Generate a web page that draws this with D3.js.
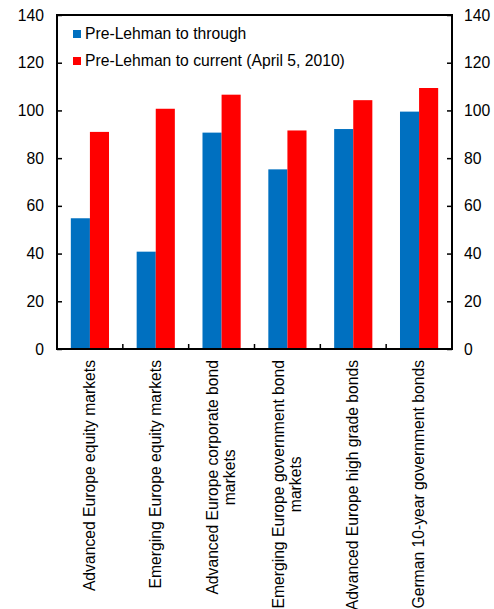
<!DOCTYPE html>
<html>
<head>
<meta charset="utf-8">
<script src="https://cdn.jsdelivr.net/npm/d3@7"></script>
<style>
  body { margin: 0; background: #fff; }
  svg text { font-family: Arial, "Liberation Sans", sans-serif; fill: #000; }
</style>
</head>
<body>
<svg id="chart" width="494" height="609"></svg>
<script>
// 类别（多行标签用数组）
var categories = [
    ["Advanced Europe equity markets"],
    ["Emerging Europe equity markets"],
    ["Advanced Europe corporate bond", "markets"],
    ["Emerging Europe government bond", "markets"],
    ["Advanced Europe high grade bonds"],
    ["German 10-year government bonds"]
];
var seriesNames = ["Pre-Lehman to through", "Pre-Lehman to current (April 5, 2010)"];
var throughValues = [54.8, 40.8, 90.7, 75.3, 92.2, 99.5];
var currentValues = [91.0, 100.7, 106.6, 91.6, 104.3, 109.4];
var yTicks = [0, 20, 40, 60, 80, 100, 120, 140];

var colType = i => i === 0 ? "#0070C0" : "#FF0000";

var width = 494, height = 609;
var margin = {top: 15, right: 42, bottom: 260, left: 57};
var fontSize = "15.7px";

var svg = d3.select("#chart");

var xScale = d3.scaleBand()
    .domain(d3.range(categories.length))
    .range([margin.left, width - margin.right])
    .paddingInner(0.42)
    .paddingOuter(0.21);

var xInner = d3.scaleBand()
    .domain([0, 1])
    .range([0, xScale.bandwidth()]);

var yScale = d3.scaleLinear()
    .domain([0, 140])
    .range([height - margin.bottom, margin.top]);

//柱子
var rows = categories.map((c, i) => ({i: i, vals: [throughValues[i], currentValues[i]]}));

svg.append("g")
    .selectAll("g")
    .data(rows)
    .join("g")
    .attr("transform", d => "translate(" + xScale(d.i) + ",0)")
    .selectAll("rect")
    .data(d => d.vals.map((v, s) => ({s: s, v: v})))
    .join("rect")
    .attr("x", d => xInner(d.s))
    .attr("width", xInner.bandwidth())
    .attr("y", d => yScale(d.v))
    .attr("height", d => yScale(0) - yScale(d.v))
    .attr("fill", d => colType(d.s));

//左右坐标轴
var leftAxis = d3.axisLeft(yScale).tickValues(yTicks).tickSize(-5).tickPadding(13);
var rightAxis = d3.axisRight(yScale).tickValues(yTicks).tickSize(-5).tickPadding(12);

function styleAxis(g) {
    g.select(".domain").remove();
    g.selectAll("line").attr("stroke", "#000").attr("stroke-width", 1.5);
    g.selectAll("text").style("font-size", fontSize).attr("fill", "#000");
}

svg.append("g")
    .attr("transform", "translate(" + margin.left + ",0)")
    .call(leftAxis)
    .call(styleAxis);

svg.append("g")
    .attr("transform", "translate(" + (width - margin.right) + ",0)")
    .call(rightAxis)
    .call(styleAxis);

//外框
svg.append("rect")
    .attr("x", margin.left)
    .attr("y", margin.top)
    .attr("width", width - margin.left - margin.right)
    .attr("height", height - margin.top - margin.bottom)
    .attr("fill", "none")
    .attr("stroke", "#000")
    .attr("stroke-width", 2);

//x轴分组刻度
var step = xScale.step();
svg.append("g")
    .selectAll("line")
    .data(d3.range(1, categories.length))
    .join("line")
    .attr("x1", i => xScale(i) - step * xScale.paddingInner() / 2)
    .attr("x2", i => xScale(i) - step * xScale.paddingInner() / 2)
    .attr("y1", yScale(0))
    .attr("y2", yScale(0) - 5)
    .attr("stroke", "#000")
    .attr("stroke-width", 1.5);

//x轴标签（旋转）
var labelTop = yScale(0) + 11;
var lineGap = 17;
var labels = svg.append("g")
    .selectAll("text")
    .data(categories.map((c, i) => ({i: i, lines: c})))
    .join("text")
    .attr("transform", d => {
        var cx = xScale(d.i) + xScale.bandwidth() / 2;
        return "translate(" + cx + "," + labelTop + ") rotate(-90)";
    })
    .attr("text-anchor", "end")
    .style("font-size", fontSize);

labels.each(function (d) {
    var t = d3.select(this);
    var n = d.lines.length;
    // 先放第一行，测宽后让后续行居中
    var first = t.append("tspan")
        .attr("x", 0)
        .attr("y", (0 - (n - 1) / 2) * lineGap + 5)
        .text(d.lines[0]);
    var w = first.node().getComputedTextLength();
    for (var k = 1; k < n; k++) {
        t.append("tspan")
            .attr("x", -(w / 2))
            .attr("text-anchor", "middle")
            .attr("y", (k - (n - 1) / 2) * lineGap + 5)
            .text(d.lines[k]);
    }
});

//图例
var legend = svg.append("g")
    .selectAll("g")
    .data(seriesNames)
    .join("g")
    .attr("transform", (d, i) => "translate(73," + (30 + i * 27) + ")");

legend.append("rect")
    .attr("width", 8)
    .attr("height", 8)
    .attr("fill", (d, i) => colType(i));

legend.append("text")
    .attr("x", 12)
    .attr("y", 9)
    .style("font-size", fontSize)
    .text(d => d);
</script>
</body>
</html>
